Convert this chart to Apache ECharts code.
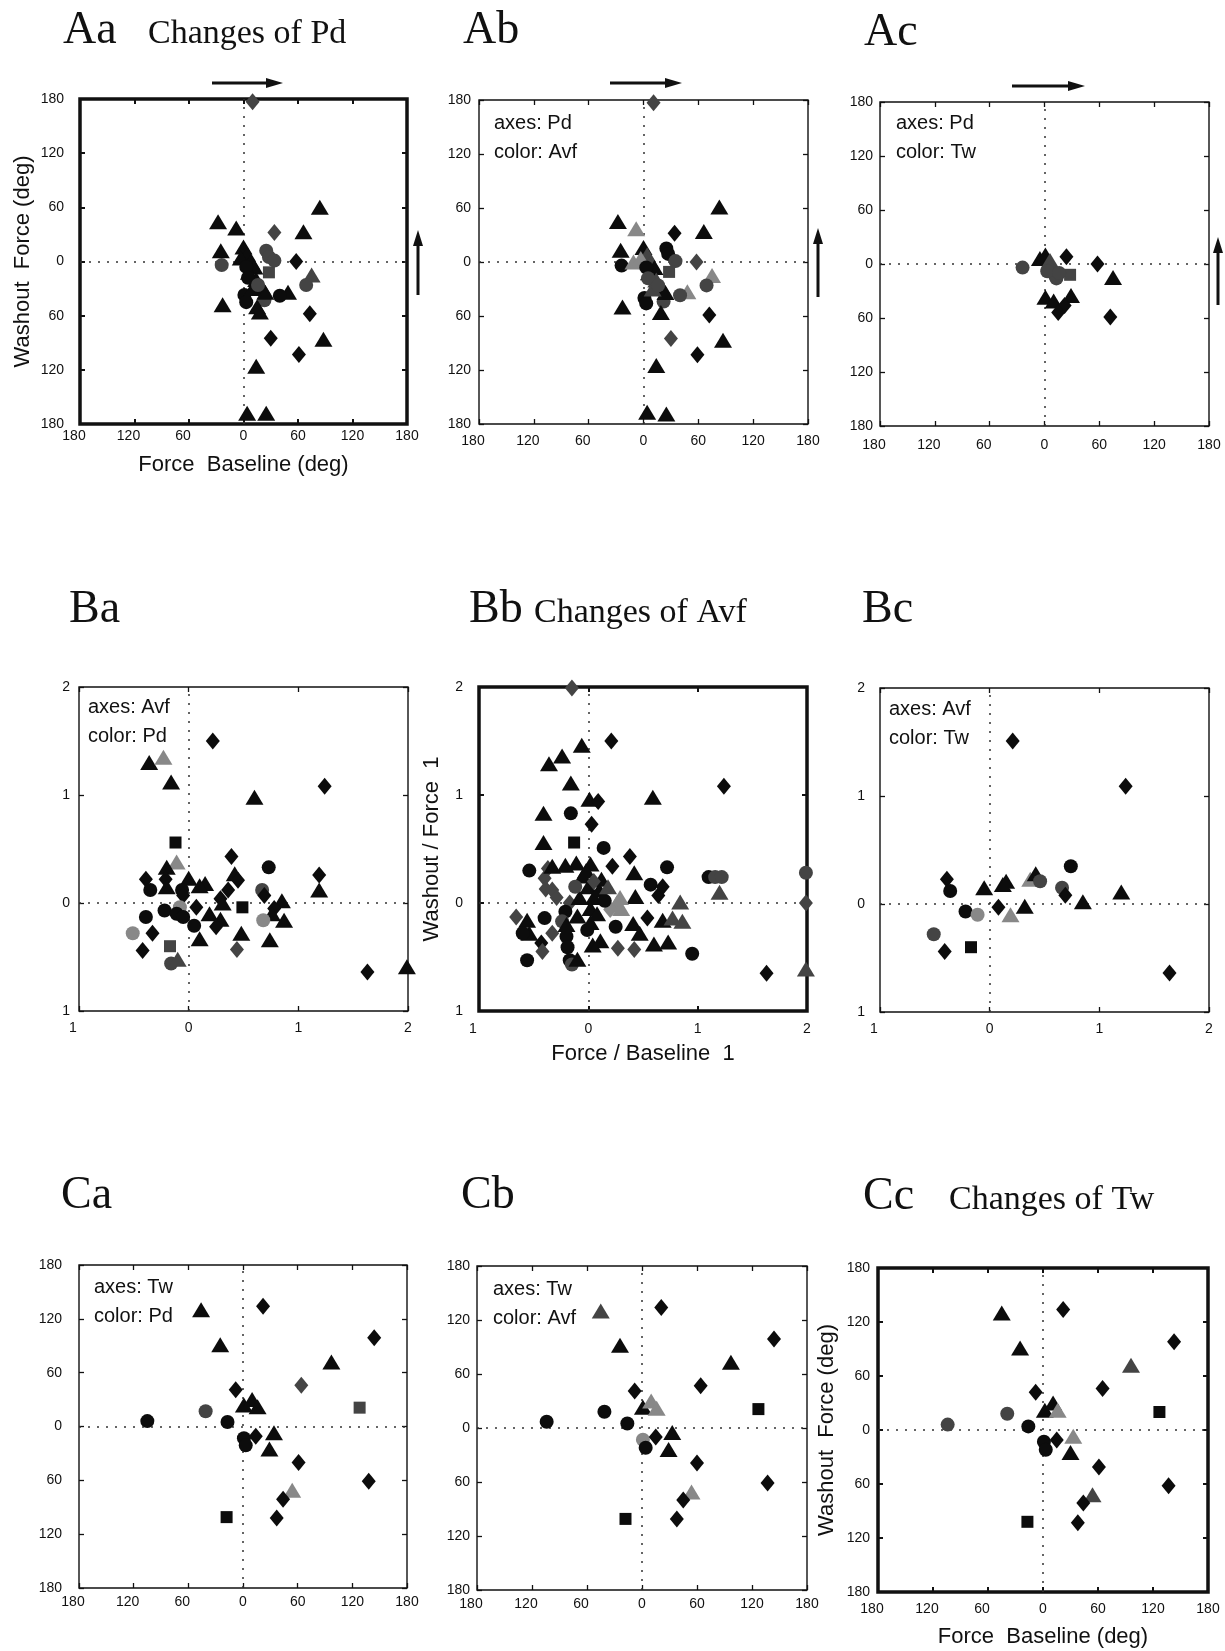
<!DOCTYPE html>
<html>
<head>
<meta charset="utf-8">
<script src="https://cdn.jsdelivr.net/npm/echarts@6/dist/echarts.min.js"></script>
<style>
  html, body { margin: 0; background: #fff; }
  #chart { width: 1225px; height: 1651px; }
</style>
</head>
<body>
<div id="chart"></div>
<script>
// tick values and the labels printed for them (signs dropped, as in the figure)
const degTicks = [-180, -120, -60, 0, 60, 120, 180];
const degTickLabels = ['180', '120', '60', '0', '60', '120', '180'];
const ratioTicks = [-1, 0, 1, 2];
const ratioTickLabels = ['1', '0', '1', '2'];

// points: [x, y, shape, shade]  shape t=triangle d=diamond c=circle s=square ; shade 0 black, 1 dark grey, 2 light grey
const pointsAa = [
  [10, 177, 'd', 1], [84, 60, 't', 0], [-28, 44, 't', 0], [-8, 37, 't', 0], [34, 32, 'd', 1],
  [66, 33, 't', 0], [-25, 12, 't', 0], [-24, -4, 'c', 1], [25, 12, 'c', 1], [28, 5, 'c', 1],
  [34, 1, 'c', 1], [58, 0, 'd', 0], [28, -12, 's', 1], [75, -15, 't', 1], [69, -26, 'c', 1],
  [49, -34, 't', 0], [40, -38, 'c', 0], [1, -37, 'c', 0], [3, -45, 'c', 0], [23, -43, 'c', 1],
  [-23, -48, 't', 0], [18, -56, 't', 0], [15, -50, 't', 0], [73, -58, 'd', 0], [30, -85, 'd', 0],
  [88, -86, 't', 0], [61, -103, 'd', 0], [14, -116, 't', 0], [4, -168, 't', 0], [25, -168, 't', 0],
  [0, 16, 't', 0], [4, 8, 't', 0], [-3, 4, 't', 0], [8, 0, 't', 0], [12, -6, 't', 0],
  [6, -12, 't', 0], [14, -20, 't', 0], [20, -28, 't', 0], [24, -34, 't', 0], [10, -30, 't', 0],
  [3, -6, 'c', 0], [5, -18, 'c', 0], [16, -26, 'c', 1]
];
const pointsAb = [
  [11, 177, 'd', 1], [83, 61, 't', 0], [-28, 45, 't', 0], [-8, 37, 't', 2], [34, 32, 'd', 0],
  [66, 34, 't', 0], [-25, 13, 't', 0], [-24, -4, 'c', 0], [-11, 0, 't', 2], [25, 15, 'c', 0],
  [27, 9, 'c', 0], [35, 1, 'c', 1], [58, 0, 'd', 1], [28, -11, 's', 1], [75, -15, 't', 2],
  [69, -26, 'c', 1], [48, -33, 't', 2], [40, -37, 'c', 1], [1, -40, 'c', 0], [3, -46, 'c', 0],
  [22, -44, 'c', 1], [-23, -50, 't', 0], [19, -56, 't', 0], [72, -59, 'd', 0], [30, -85, 'd', 1],
  [87, -87, 't', 0], [59, -103, 'd', 0], [14, -115, 't', 0], [4, -167, 't', 0], [25, -169, 't', 0],
  [0, 16, 't', 0], [4, 8, 't', 1], [-3, 4, 't', 2], [8, 0, 't', 1], [12, -6, 't', 0],
  [6, -12, 't', 0], [14, -20, 't', 1], [20, -28, 't', 0], [24, -34, 't', 0], [10, -30, 't', 1],
  [3, -6, 'c', 0], [5, -18, 'c', 1], [16, -26, 'c', 1]
];
const pointsAc = [
  [-24, -4, 'c', 1], [-5, 6, 't', 0], [1, 10, 't', 0], [6, 4, 't', 1], [24, 8, 'd', 0],
  [58, 0, 'd', 0], [6, -7, 'c', 1], [11, -12, 'c', 1], [13, -16, 'c', 1], [28, -12, 's', 1],
  [75, -15, 't', 0], [1, -37, 't', 0], [10, -41, 't', 0], [29, -35, 't', 0], [22, -46, 'd', 0],
  [15, -54, 'd', 0], [72, -59, 'd', 0], [3, -8, 'c', 1], [16, -10, 'c', 1]
];
const pointsBa = [
  [0.22, 1.50, 'd', 0], [-0.36, 1.30, 't', 0], [-0.23, 1.35, 't', 2], [-0.16, 1.12, 't', 0],
  [0.60, 0.98, 't', 0], [1.24, 1.08, 'd', 0], [-0.12, 0.56, 's', 0], [0.39, 0.43, 'd', 0],
  [0.73, 0.33, 'c', 0], [-0.11, 0.38, 't', 2], [-0.20, 0.33, 't', 0], [-0.39, 0.22, 'd', 0],
  [-0.21, 0.22, 'd', 0], [-0.35, 0.12, 'c', 0], [-0.20, 0.15, 't', 0], [0.00, 0.23, 't', 0],
  [0.15, 0.18, 't', 0], [0.10, 0.16, 't', 0], [-0.06, 0.12, 'c', 0], [-0.05, 0.07, 'd', 0],
  [0.42, 0.27, 't', 0], [0.45, 0.21, 'd', 0], [0.36, 0.12, 'd', 0], [0.29, 0.04, 'd', 0],
  [0.31, 0.00, 't', 0], [0.67, 0.12, 'c', 1], [0.69, 0.07, 'd', 0], [0.85, 0.02, 't', 0],
  [0.78, -0.05, 'd', 0], [0.76, -0.10, 't', 0], [1.19, 0.26, 'd', 0], [1.19, 0.12, 't', 0],
  [0.49, -0.04, 's', 0], [-0.08, -0.04, 'c', 2], [0.07, -0.04, 'd', 0], [-0.22, -0.07, 'c', 0],
  [-0.11, -0.10, 'c', 0], [-0.05, -0.13, 'c', 0], [0.19, -0.10, 't', 0], [-0.39, -0.13, 'c', 0],
  [0.29, -0.15, 't', 0], [0.25, -0.22, 'd', 0], [0.05, -0.21, 'c', 0], [0.68, -0.16, 'c', 2],
  [0.87, -0.16, 't', 0], [-0.51, -0.28, 'c', 2], [-0.33, -0.28, 'd', 0], [0.10, -0.33, 't', 0],
  [0.48, -0.28, 't', 0], [0.74, -0.34, 't', 0], [-0.17, -0.40, 's', 1], [-0.42, -0.44, 'd', 0],
  [0.44, -0.43, 'd', 1], [-0.16, -0.56, 'c', 1], [-0.10, -0.52, 't', 1], [1.63, -0.64, 'd', 0],
  [1.99, -0.59, 't', 0]
];
const pointsBb = [
  [-0.15, 1.99, 'd', 1], [0.21, 1.50, 'd', 0], [-0.06, 1.46, 't', 0], [-0.24, 1.36, 't', 0],
  [-0.36, 1.29, 't', 0], [-0.16, 1.11, 't', 0], [1.24, 1.08, 'd', 0], [0.01, 0.96, 't', 0],
  [0.09, 0.94, 'd', 0], [0.59, 0.98, 't', 0], [-0.41, 0.83, 't', 0], [-0.16, 0.83, 'c', 0],
  [0.03, 0.73, 'd', 0], [-0.41, 0.56, 't', 0], [-0.13, 0.56, 's', 0], [0.14, 0.51, 'c', 0],
  [0.38, 0.43, 'd', 0], [0.22, 0.34, 'd', 0], [0.72, 0.33, 'c', 0], [-0.54, 0.30, 'c', 0],
  [-0.37, 0.32, 'd', 1], [-0.40, 0.23, 'd', 1], [-0.33, 0.34, 't', 0], [-0.21, 0.35, 't', 0],
  [-0.11, 0.37, 't', 0], [0.02, 0.36, 't', 0], [1.10, 0.24, 'c', 0], [1.16, 0.24, 'c', 1],
  [1.22, 0.24, 'c', 1], [1.20, 0.10, 't', 1], [1.99, 0.28, 'c', 1], [1.99, 0.00, 'd', 1],
  [1.99, -0.61, 't', 1], [0.42, 0.28, 't', 0], [0.57, 0.17, 'c', 0], [-0.39, 0.13, 'd', 1],
  [-0.33, 0.12, 'd', 1], [-0.29, 0.05, 'd', 1], [-0.17, 0.00, 'd', 1], [-0.66, -0.13, 'd', 1],
  [-0.56, -0.16, 't', 0], [-0.54, -0.28, 't', 0], [-0.60, -0.28, 'c', 0], [-0.40, -0.14, 'c', 0],
  [-0.33, -0.28, 'd', 1], [-0.43, -0.37, 'd', 0], [-0.42, -0.45, 'd', 1], [-0.56, -0.53, 'c', 0],
  [-0.20, -0.31, 'c', 0], [-0.19, -0.41, 'c', 0], [-0.17, -0.53, 'c', 0], [-0.15, -0.57, 'c', 1],
  [-0.10, -0.52, 't', 0], [0.04, -0.39, 't', 0], [0.11, -0.35, 't', 0], [0.27, -0.42, 'd', 1],
  [0.42, -0.43, 'd', 1], [0.60, -0.38, 't', 0], [0.73, -0.36, 't', 0], [0.95, -0.47, 'c', 0],
  [1.63, -0.65, 'd', 0], [0.47, -0.28, 't', 0], [0.41, -0.19, 't', 0], [0.25, -0.22, 'c', 0],
  [0.54, -0.14, 'd', 0], [0.68, -0.16, 't', 0], [0.77, -0.14, 't', 1], [0.86, -0.17, 't', 1],
  [0.84, 0.01, 't', 1], [0.64, 0.07, 'd', 0], [0.68, 0.15, 'd', 0], [0.43, 0.06, 't', 0],
  [0.26, 0.00, 't', 2], [0.20, -0.06, 'd', 2], [0.29, 0.05, 't', 2], [0.30, -0.05, 't', 2],
  [-0.21, -0.08, 'c', 0], [-0.24, -0.17, 'c', 1], [-0.20, -0.20, 't', 0], [-0.01, -0.25, 'c', 0],
  [0.02, -0.18, 't', 0], [-0.05, 0.25, 't', 0], [0.00, 0.15, 't', 0], [0.05, 0.05, 't', 0],
  [-0.08, 0.05, 't', 0], [0.10, 0.12, 't', 0], [0.02, -0.05, 't', 0], [-0.10, -0.12, 't', 0],
  [0.08, -0.10, 't', 0], [-0.02, 0.30, 't', 0], [0.12, 0.22, 't', 0], [0.15, 0.02, 'c', 0],
  [-0.12, 0.15, 'c', 1], [0.05, 0.20, 'd', 1], [0.18, 0.15, 't', 1]
];
const pointsBc = [
  [0.21, 1.51, 'd', 0], [1.24, 1.09, 'd', 0], [0.74, 0.35, 'c', 0], [-0.39, 0.23, 'd', 0],
  [-0.36, 0.12, 'c', 0], [-0.05, 0.15, 't', 0], [0.12, 0.18, 't', 0], [0.15, 0.21, 't', 0],
  [0.37, 0.23, 't', 2], [0.42, 0.28, 't', 0], [0.46, 0.21, 'c', 1], [0.66, 0.15, 'c', 1],
  [0.69, 0.08, 'd', 0], [1.20, 0.11, 't', 0], [0.85, 0.02, 't', 0], [0.32, -0.02, 't', 0],
  [0.08, -0.03, 'd', 0], [-0.22, -0.07, 'c', 0], [-0.11, -0.10, 'c', 2], [0.19, -0.10, 't', 2],
  [-0.51, -0.28, 'c', 1], [-0.41, -0.44, 'd', 0], [-0.17, -0.40, 's', 0], [1.64, -0.64, 'd', 0]
];
const pointsCa = [
  [-46, 130, 't', 0], [22, 134, 'd', 0], [-25, 91, 't', 0], [144, 99, 'd', 0], [97, 72, 't', 0],
  [-8, 41, 'd', 0], [64, 46, 'd', 1], [1, 24, 't', 0], [10, 30, 't', 0], [16, 22, 't', 0],
  [128, 21, 's', 1], [-105, 6, 'c', 0], [-41, 17, 'c', 1], [-17, 5, 'c', 0], [1, -13, 'c', 0],
  [3, -21, 'c', 0], [14, -11, 'd', 0], [34, -7, 't', 0], [29, -25, 't', 0], [61, -40, 'd', 0],
  [138, -61, 'd', 0], [54, -71, 't', 2], [44, -81, 'd', 0], [-18, -101, 's', 0], [37, -102, 'd', 0]
];
const pointsCb = [
  [-45, 130, 't', 1], [21, 134, 'd', 0], [-24, 92, 't', 0], [144, 99, 'd', 0], [97, 73, 't', 0],
  [-8, 41, 'd', 0], [64, 47, 'd', 0], [1, 23, 't', 0], [10, 30, 't', 2], [16, 22, 't', 2],
  [127, 21, 's', 0], [-104, 7, 'c', 0], [-41, 18, 'c', 0], [-16, 5, 'c', 0], [1, -13, 'c', 2],
  [4, -22, 'c', 0], [15, -10, 'd', 0], [33, -5, 't', 0], [29, -24, 't', 0], [60, -39, 'd', 0],
  [137, -61, 'd', 0], [54, -71, 't', 2], [45, -80, 'd', 0], [-18, -101, 's', 0], [38, -101, 'd', 0]
];
const pointsCc = [
  [-45, 130, 't', 0], [22, 134, 'd', 0], [-25, 91, 't', 0], [143, 98, 'd', 0], [96, 72, 't', 1],
  [-8, 42, 'd', 0], [65, 46, 'd', 0], [2, 22, 't', 0], [11, 30, 't', 0], [16, 22, 't', 2],
  [127, 20, 's', 0], [-104, 6, 'c', 1], [-39, 18, 'c', 1], [-16, 4, 'c', 0], [1, -13, 'c', 0],
  [3, -22, 'c', 0], [15, -11, 'd', 0], [33, -7, 't', 2], [30, -25, 't', 0], [61, -41, 'd', 0],
  [137, -62, 'd', 0], [54, -72, 't', 1], [44, -81, 'd', 0], [-17, -102, 's', 0], [38, -103, 'd', 0]
];

const SYMBOL = { t: 'triangle', d: 'diamond', c: 'circle', s: 'rect' };
const SIZE = { t: [18, 15], d: [14, 17], c: 14, s: 12 };
const SHADE = ['#0c0c0c', '#444', '#888'];
const INK = '#111';
const SANS = "'Liberation Sans', Arial, Helvetica, sans-serif";
const SERIF = "'Liberation Serif', 'Times New Roman', serif";

const panels = [
  { pts: pointsAa, scale: 'deg', box: [80, 99, 327, 325], bold: true, yGap: 16, xGap: 5,
    xName: 'Force  Baseline (deg)', xNameGap: 30, yName: 'Washout  Force (deg)', yNameGap: 46 },
  { pts: pointsAb, scale: 'deg', box: [479, 100, 329, 324], yGap: 8, xGap: 10, note: ['axes: Pd', 'color: Avf'], noteAt: [15, 29] },
  { pts: pointsAc, scale: 'deg', box: [880, 102, 329, 324], yGap: 7, xGap: 12, note: ['axes: Pd', 'color: Tw'], noteAt: [16, 27] },
  { pts: pointsBa, scale: 'ratio', box: [79, 687, 329, 324], yGap: 9, xGap: 10, note: ['axes: Avf', 'color: Pd'], noteAt: [9, 26] },
  { pts: pointsBb, scale: 'ratio', box: [479, 687, 328, 324], bold: true, yGap: 16, xGap: 11,
    xName: 'Force / Baseline  1', xNameGap: 32, yName: 'Washout / Force  1', yNameGap: 36 },
  { pts: pointsBc, scale: 'ratio', box: [880, 688, 329, 324], yGap: 15, xGap: 10, note: ['axes: Avf', 'color: Tw'], noteAt: [9, 27] },
  { pts: pointsCa, scale: 'deg', box: [79, 1265, 328, 323], yGap: 17, xGap: 7, note: ['axes: Tw', 'color: Pd'], noteAt: [15, 28] },
  { pts: pointsCb, scale: 'deg', box: [477, 1266, 330, 324], yGap: 7, xGap: 7, note: ['axes: Tw', 'color: Avf'], noteAt: [16, 29] },
  { pts: pointsCc, scale: 'deg', box: [878, 1268, 330, 324], bold: true, yGap: 8, xGap: 10,
    xName: 'Force  Baseline (deg)', xNameGap: 34, yName: 'Washout  Force (deg)', yNameGap: 40 }
];

// panel letters and headings: [text, x, baseline, size]
const headings = [
  ['Aa', 63, 45, 46], ['Changes of Pd', 148, 45, 34], ['Ab', 463, 45, 46], ['Ac', 864, 47, 46],
  ['Ba', 69, 624, 46], ['Bb', 469, 624, 46], ['Changes of Avf', 534, 624, 34], ['Bc', 862, 624, 46],
  ['Ca', 61, 1210, 46], ['Cb', 461, 1210, 46], ['Cc', 863, 1211, 46], ['Changes of Tw', 949, 1211, 34]
];
// direction arrows above / beside the top row: [x1, x2, y] and [x, yBottom, yTop]
const hArrows = [[212, 283, 83], [610, 682, 83], [1012, 1085, 86]];
const vArrows = [[418, 295, 230], [818, 297, 228], [1218, 305, 237]];

function tickLabel(scale) {
  const ticks = scale === 'deg' ? degTicks : ratioTicks;
  const labels = scale === 'deg' ? degTickLabels : ratioTickLabels;
  return (v) => {
    const i = ticks.findIndex((t) => Math.abs(t - v) < 1e-6);
    return i < 0 ? '' : labels[i];
  };
}
function tickLabelX(scale) {
  const f = tickLabel(scale);
  return (v) => (v < 0 ? '{n|' + f(v) + '}' : f(v));
}

const grid = [], xAxis = [], yAxis = [], series = [], graphic = [];

panels.forEach((p, i) => {
  const [left, top, width, height] = p.box;
  grid.push({ left, top, width, height, show: true, backgroundColor: 'transparent',
    borderColor: INK, borderWidth: p.bold ? 3.5 : 1.4 });
  const range = p.scale === 'deg' ? { min: -180, max: 180, interval: 60 } : { min: -1, max: 2, interval: 1 };
  const tick = { show: true, inside: true, length: 5, lineStyle: { color: INK, width: p.bold ? 2 : 1.3 } };
  const line = { show: false, onZero: false };
  const labelFont = { color: INK, fontSize: 14, fontFamily: SANS };
  const nameFont = { color: INK, fontSize: 22, fontFamily: SANS };

  xAxis.push(Object.assign({
    gridIndex: i, type: 'value', position: 'bottom', ...range,
    axisLine: line, axisTick: tick, splitLine: { show: false },
    axisLabel: Object.assign({ margin: p.xGap, formatter: tickLabelX(p.scale), showMinLabel: true, showMaxLabel: true,
      rich: { n: { fontSize: 14, fontFamily: SANS, color: INK, padding: [0, 12, 0, 0] } } }, labelFont)
  }, p.xName ? { name: p.xName, nameLocation: 'middle', nameGap: p.xNameGap, nameTextStyle: nameFont } : {}));
  xAxis.push({ gridIndex: i, type: 'value', position: 'top', ...range,
    axisLine: line, axisTick: tick, axisLabel: { show: false }, splitLine: { show: false } });

  yAxis.push(Object.assign({
    gridIndex: i, type: 'value', position: 'left', ...range,
    axisLine: line, axisTick: tick, splitLine: { show: false },
    axisLabel: Object.assign({ margin: p.yGap, formatter: tickLabel(p.scale), showMinLabel: true, showMaxLabel: true }, labelFont)
  }, p.yName ? { name: p.yName, nameLocation: 'middle', nameGap: p.yNameGap, nameTextStyle: nameFont } : {}));
  yAxis.push({ gridIndex: i, type: 'value', position: 'right', ...range,
    axisLine: line, axisTick: tick, axisLabel: { show: false }, splitLine: { show: false } });

  series.push({
    type: 'scatter', xAxisIndex: 2 * i, yAxisIndex: 2 * i, silent: true, animation: false, z: 3,
    data: p.pts.map(([x, y, s, c]) => ({
      value: [x, y], symbol: SYMBOL[s], symbolSize: SIZE[s], itemStyle: { color: SHADE[c], opacity: 1 }
    })),
    markLine: {
      silent: true, animation: false, z: 1, symbol: ['none', 'none'], label: { show: false },
      lineStyle: { type: [2, 7], color: '#333', width: 1.5 },
      emphasis: { disabled: true },
      data: [{ xAxis: 0 }, { yAxis: 0 }]
    }
  });

  if (p.note) {
    p.note.forEach((t, k) => {
      graphic.push({ type: 'text', left: left + p.noteAt[0], top: top + p.noteAt[1] - 16 + k * 29, silent: true,
        style: { text: t, font: '20px ' + SANS, fill: INK } });
    });
  }
});

headings.forEach(([t, x, base, size]) => {
  graphic.push({ type: 'text', x, y: base - 0.31 * size, silent: true,
    style: { text: t, font: size + 'px ' + SERIF, fill: INK, verticalAlign: 'middle', align: 'left' } });
});
hArrows.forEach(([x1, x2, y]) => {
  graphic.push({ type: 'polyline', silent: true, shape: { points: [[x1, y], [x2 - 12, y]] },
    style: { stroke: INK, lineWidth: 3, fill: null } });
  graphic.push({ type: 'polygon', silent: true, shape: { points: [[x2 - 17, y - 5], [x2, y], [x2 - 17, y + 5]] },
    style: { fill: INK } });
});
vArrows.forEach(([x, y1, y2]) => {
  graphic.push({ type: 'polyline', silent: true, shape: { points: [[x, y1], [x, y2 + 12]] },
    style: { stroke: INK, lineWidth: 3, fill: null } });
  graphic.push({ type: 'polygon', silent: true, shape: { points: [[x - 5, y2 + 16], [x, y2], [x + 5, y2 + 16]] },
    style: { fill: INK } });
});

const chart = echarts.init(document.getElementById('chart'), null, { renderer: 'canvas' });
chart.setOption({
  animation: false,
  backgroundColor: '#fff',
  grid, xAxis, yAxis, series, graphic
});
</script>
</body>
</html>
